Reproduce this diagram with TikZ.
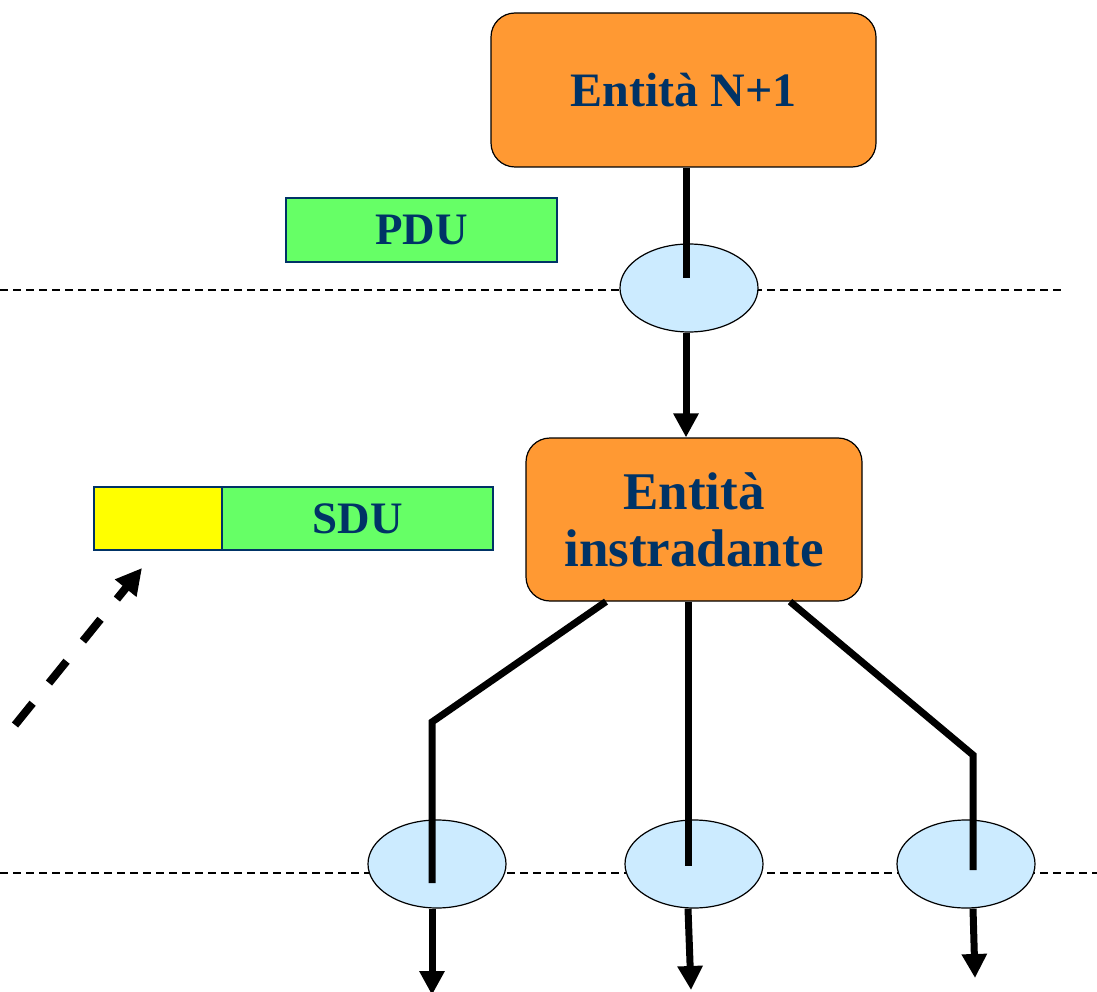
\documentclass[tikz,border=0pt]{standalone}
\usepackage{fontspec}
\setmainfont{Liberation Serif}
\usetikzlibrary{arrows.meta,shapes.geometric}

\definecolor{arancio}{HTML}{FF9933}
\definecolor{azzurro}{HTML}{CCEBFF}
\definecolor{verde}{HTML}{66FF66}
\definecolor{giallo}{HTML}{FFFF00}
\definecolor{blu}{HTML}{003366}

\begin{document}
\begin{tikzpicture}[x=1pt,y=-1pt,
    entita/.style={draw=black, line width=1.2pt, fill=arancio, rounded corners=24pt,
        text=blu, align=center, inner sep=0pt},
    sap/.style={ellipse, draw=black, line width=1.2pt, fill=azzurro,
        minimum width=138pt, minimum height=88pt, inner sep=0pt},
    unita/.style={draw=blu, line width=1.8pt, text=blu, inner sep=0pt,
        font=\bfseries\fontsize{45}{50}\selectfont},
    livello/.style={line width=1.2pt, dash pattern=on 8pt off 5pt},
    linea/.style={line width=7pt},
    freccia/.style={line width=7pt, -{Triangle[length=24pt,width=24pt]}}]
    \useasboundingbox (0,0) rectangle (1097,992);

    % -----------------------------------------------------
    % 1) Confini tra i livelli (linee tratteggiate)
    % -----------------------------------------------------
    \draw[livello] (0,290) -- (1065,290);
    \draw[livello] (0,873) -- (1097,873);

    % -----------------------------------------------------
    % 2) Entita' N+1 e punto di accesso superiore
    % -----------------------------------------------------
    \node[entita, minimum width=385pt, minimum height=154pt,
          font=\bfseries\fontsize{48}{57}\selectfont] (entN1) at (683.5,90) {Entità N+1};
    \node[sap] (sapN) at (689,288) {};
    \coordinate (fineN) at (686,278);
    \draw[linea] (entN1.south -| fineN) -- (fineN);

    % PDU
    \node[unita, fill=verde, minimum width=271pt, minimum height=64pt] (pdu) at (421.5,230) {PDU};

    % -----------------------------------------------------
    % 3) Entita' instradante
    % -----------------------------------------------------
    \node[entita, minimum width=336pt, minimum height=163pt,
          font=\bfseries\fontsize{53}{57}\selectfont] (instr) at (694,519.5) {Entità\\instradante};
    \draw[freccia] (sapN.south -| fineN) -- (instr.north -| fineN);

    % SDU con intestazione
    \node[unita, fill=giallo, minimum width=128pt, minimum height=63pt] (intest) at (158,518.5) {};
    \node[unita, fill=verde, minimum width=271pt, minimum height=63pt] (sdu) at (357.5,518.5) {SDU};

    % freccia tratteggiata verso l'intestazione
    \coordinate (origine) at (15,725);
    \coordinate (puntaSDU) at (142,568);
    \draw[line width=8pt, dash pattern=on 28pt off 26pt,
          -{Triangle[length=26pt,width=26pt]}] (origine) -- (puntaSDU);

    % -----------------------------------------------------
    % 4) Punti di accesso inferiori e diramazioni
    % -----------------------------------------------------
    \node[sap] (sapS) at (437,864) {};
    \node[sap] (sapC) at (694,864) {};
    \node[sap] (sapD) at (966,864) {};

    \coordinate (gomitoS) at (432,722);
    \coordinate (fineS) at (432,883);
    \coordinate (fineC) at (688,866);
    \coordinate (gomitoD) at (973,755);
    \coordinate (fineD) at (973,870);

    \draw[linea] ([xshift=-88pt]instr.south) -- (gomitoS) -- (fineS);
    \draw[linea] (instr.south -| fineC) -- (fineC);
    \draw[linea] ([xshift=96pt]instr.south) -- (gomitoD) -- (fineD);

    % frecce in uscita
    \coordinate (puntaS) at (432,995);
    \coordinate (puntaC) at (691,990);
    \coordinate (puntaD) at (975,978);
    \draw[freccia] (sapS.south -| puntaS) -- (puntaS);
    \draw[freccia] ([xshift=-6pt]sapC.south) -- (puntaC);
    \draw[freccia] (sapD.south -| fineD) -- (puntaD);

\end{tikzpicture}
\end{document}
